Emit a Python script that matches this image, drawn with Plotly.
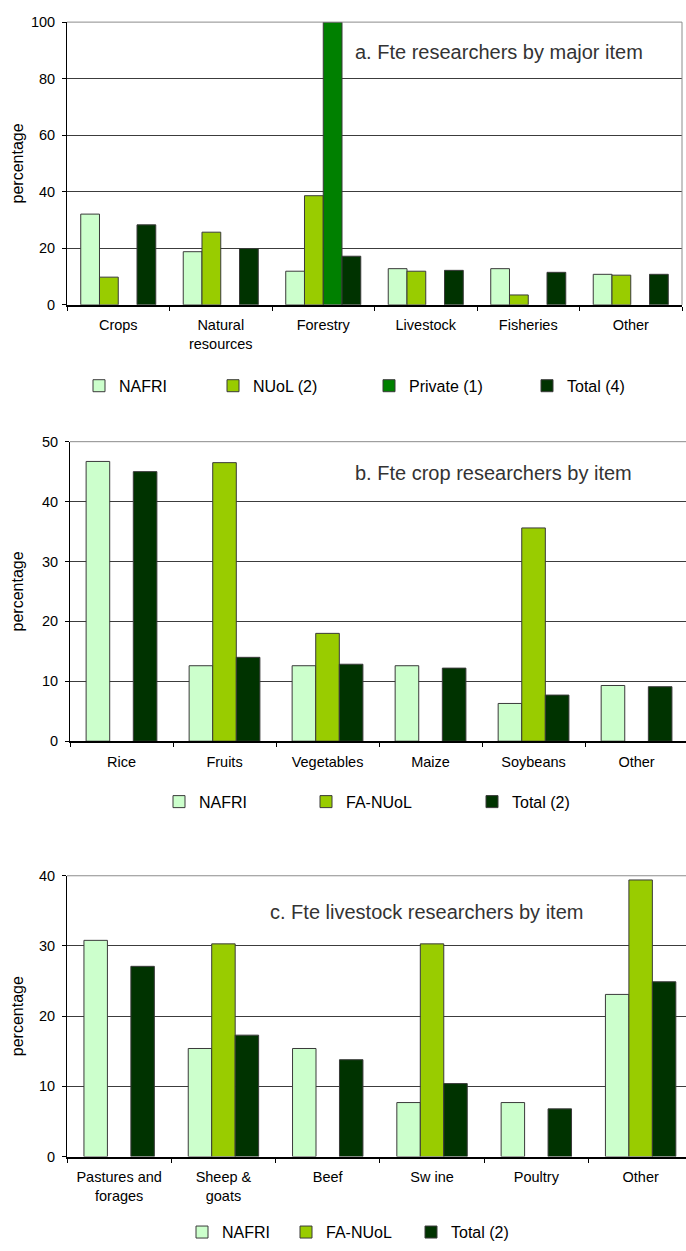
import plotly.graph_objects as go

# ---- data -------------------------------------------------------------
cat_a = ["Crops", "Natural<br>resources", "Forestry", "Livestock", "Fisheries", "Other"]
a_nafri = [32.1, 18.8, 11.9, 12.8, 12.8, 10.8]
a_nuol = [9.8, 25.7, 38.6, 11.9, 3.5, 10.5]
a_private = [None, None, 100.0, None, None, None]
a_total = [28.3, 19.9, 17.2, 12.2, 11.5, 10.8]

cat_b = ["Rice", "Fruits", "Vegetables", "Maize", "Soybeans", "Other"]
b_nafri = [46.7, 12.6, 12.6, 12.6, 6.3, 9.3]
b_fanuol = [None, 46.5, 18.0, None, 35.6, None]
b_total = [45.0, 14.0, 12.85, 12.2, 7.7, 9.1]

cat_c = ["Pastures and<br>forages", "Sheep &<br>goats", "Beef", "Sw ine", "Poultry", "Other"]
c_nafri = [30.8, 15.4, 15.4, 7.7, 7.7, 23.1]
c_fanuol = [None, 30.3, None, 30.3, None, 39.4]
c_total = [27.1, 17.3, 13.8, 10.4, 6.8, 24.9]

titles = ["a. Fte researchers by major item",
          "b. Fte crop researchers by item",
          "c. Fte livestock researchers by item"]

# ---- styling ----------------------------------------------------------
W, H = 686, 1251
FONT = "Liberation Sans, Arial, sans-serif"
C_NAFRI = "#CCFFCC"
C_NUOL = "#99CC00"
C_PRIV = "#008000"
C_TOTAL = "#003300"
OUTLINE = "#3a3a3a"


def px_x(p):
    return p / W


def px_y(p):
    return 1 - p / H


# panel geometry in pixels: (left, right, top(max value), bottom(zero))
panels = [
    dict(left=67, right=682, top=14.3, bottom=300.7, ymax=100, dtick=20,
         xend=5.5, bw=0.183, legy=382.7, ttx=353, tty=45),
    dict(left=70, right=686, top=439.3, bottom=742.7, ymax=50, dtick=10,
         xend=5.48, bw=0.229, legy=804, ttx=353, tty=470.7),
    dict(left=67, right=686, top=879, bottom=1163.5, ymax=40, dtick=10,
         xend=5.435, bw=0.225, legy=1240, ttx=268, tty=916),
]

series = [
    # (panel, categories, values, name, colour, legend text x)
    [(cat_a, a_nafri, "NAFRI", C_NAFRI, 119),
     (cat_a, a_nuol, "NUoL (2)", C_NUOL, 253),
     (cat_a, a_private, "Private (1)", C_PRIV, 409),
     (cat_a, a_total, "Total (4)", C_TOTAL, 567)],
    [(cat_b, b_nafri, "NAFRI", C_NAFRI, 199),
     (cat_b, b_fanuol, "FA-NUoL", C_NUOL, 346),
     (cat_b, b_total, "Total (2)", C_TOTAL, 512)],
    [(cat_c, c_nafri, "NAFRI", C_NAFRI, 222),
     (cat_c, c_fanuol, "FA-NUoL", C_NUOL, 326),
     (cat_c, c_total, "Total (2)", C_TOTAL, 451)],
]

fig = go.Figure()
layout = dict(
    width=W, height=H,
    margin=dict(l=0, r=0, t=0, b=0),
    paper_bgcolor="white", plot_bgcolor="white",
    barmode="overlay",
    font=dict(family=FONT, color="black"),
    annotations=[], shapes=[],
)

leg_n = 0
for i, (p, group) in enumerate(zip(panels, series)):
    sfx = "" if i == 0 else str(i + 1)
    xa, ya = "x" + sfx, "y" + sfx
    n = len(group)
    w = p["bw"]
    for j, (cats, vals, name, col, textx) in enumerate(group):
        leg_n += 1
        lname = "legend" if leg_n == 1 else f"legend{leg_n}"
        fig.add_trace(go.Bar(
            x=cats, y=vals, name=name, xaxis=xa, yaxis=ya,
            width=w, offset=(j - n / 2) * w,
            marker=dict(color=col, line=dict(color=OUTLINE, width=1)),
            legend=lname, showlegend=True,
        ))
        layout[lname] = dict(
            x=px_x(textx - 40), xanchor="left",
            y=px_y(p["legy"]), yanchor="middle",
            orientation="h", bgcolor="rgba(0,0,0,0)", borderwidth=0,
            font=dict(family=FONT, size=16, color="black"),
            itemclick=False, itemdoubleclick=False,
        )

    layout["xaxis" + sfx] = dict(
        domain=[px_x(p["left"]), px_x(p["right"])], anchor=ya,
        type="category", range=[-0.5, p["xend"]],
        showline=True, linecolor="black", linewidth=2,
        ticks="outside", tickson="boundaries", ticklen=4,
        tickcolor="black", tickwidth=1, showgrid=False,
        tickfont=dict(family=FONT, size=14.5, color="black"),
        ticklabelstandoff=6, fixedrange=True,
    )
    layout["yaxis" + sfx] = dict(
        domain=[px_y(p["bottom"]), px_y(p["top"])], anchor=xa,
        range=[0, p["ymax"]], dtick=p["dtick"], tick0=0,
        showline=True, linecolor="black", linewidth=1,
        ticks="outside", ticklen=4, tickcolor="black",
        showgrid=True, gridcolor="#3c3c3c", gridwidth=1, zeroline=False,
        tickfont=dict(family=FONT, size=14.5, color="black"),
        ticklabelstandoff=4, fixedrange=True,
    )

    # light top edge of the plotting area
    layout["shapes"].append(dict(
        type="line", xref=xa + " domain", yref=ya + " domain",
        x0=0, x1=1, y0=1, y1=1, line=dict(color="#8c8c8c", width=1),
        layer="above"))
    if i == 0:
        layout["shapes"].append(dict(
            type="line", xref=xa + " domain", yref=ya + " domain",
            x0=1, x1=1, y0=0, y1=1, line=dict(color="#8c8c8c", width=1),
            layer="above"))

    layout["annotations"].append(dict(
        text=titles[i], xref="paper", yref="paper",
        x=px_x(p["ttx"]), y=px_y(p["tty"]), xanchor="left", yanchor="middle",
        showarrow=False, font=dict(family=FONT, size=20, color="#333333")))
    layout["annotations"].append(dict(
        text="percentage", xref="paper", yref="paper", textangle=-90,
        x=px_x(17), y=px_y((p["top"] + p["bottom"]) / 2),
        xanchor="center", yanchor="middle", showarrow=False,
        font=dict(family=FONT, size=16, color="black")))

fig.update_layout(**layout)
fig.write_html("out.html", config={"displayModeBar": False})
